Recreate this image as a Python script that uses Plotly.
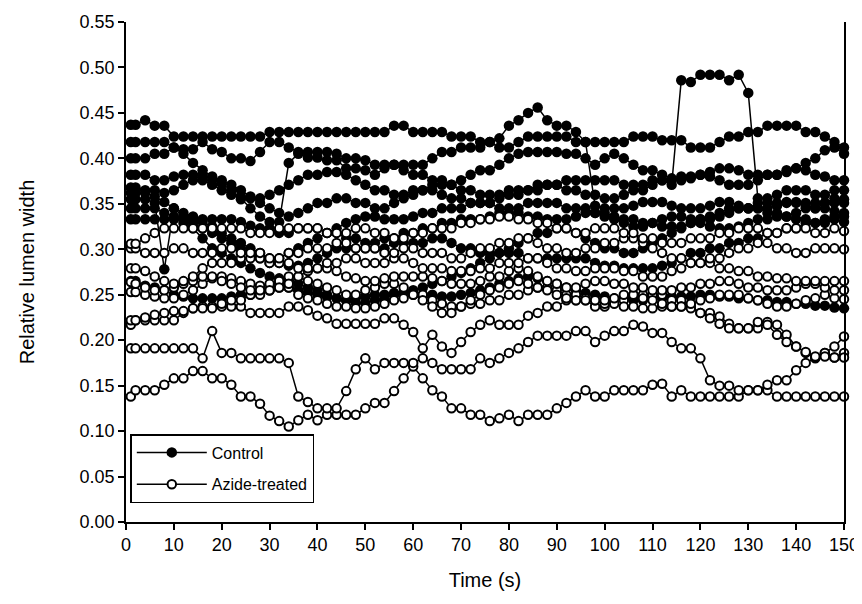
import plotly.graph_objects as go

# Time points (s)
time_s = [1] + list(range(2, 151, 2))

# ---- Control series (relative lumen width) ----
control_1 = [.437,.437,.442,.436,.436,.424,.424,.424,.424,.424,
             .424,.424,.424,.424,.424,.429,.429,.429,.429,.429,
             .429,.429,.429,.429,.429,.429,.429,.429,.436,.436,
             .429,.429,.429,.429,.424,.424,.424,.418,.418,.412,
             .412,.418,.424,.424,.424,.424,.424,.418,.418,.418,
             .418,.418,.418,.424,.424,.424,.420,.420,.420,.412,
             .412,.412,.418,.424,.424,.429,.429,.436,.436,.436,
             .436,.429,.429,.424,.418,.412]
control_2 = [.418,.418,.418,.418,.418,.412,.410,.410,.418,.410,
             .407,.400,.400,.397,.407,.418,.418,.412,.407,.401,
             .401,.398,.398,.389,.389,.387,.382,.389,.393,.393,
             .393,.393,.400,.407,.407,.412,.412,.412,.418,.422,
             .436,.442,.450,.456,.442,.436,.436,.429,.418,.348,
             .345,.345,.345,.348,.352,.352,.352,.348,.345,.345,
             .345,.348,.352,.352,.348,.345,.345,.345,.348,.352,
             .352,.348,.345,.345,.342,.340]
control_3 = [.400,.400,.400,.405,.405,.412,.405,.395,.387,.380,
             .372,.365,.355,.345,.336,.330,.330,.395,.405,.407,
             .407,.407,.405,.400,.400,.398,.393,.393,.393,.387,
             .382,.382,.376,.376,.371,.376,.382,.387,.387,.393,
             .400,.405,.407,.407,.407,.407,.405,.405,.400,.393,
             .400,.405,.400,.393,.387,.387,.382,.378,.376,.378,
             .382,.385,.389,.389,.387,.382,.382,.382,.382,.385,
             .389,.395,.400,.409,.412,.405]
control_4 = [.382,.382,.382,.376,.376,.380,.382,.382,.376,.371,
             .365,.360,.358,.356,.356,.360,.365,.371,.376,.382,
             .382,.385,.385,.382,.376,.371,.365,.365,.360,.360,
             .365,.365,.371,.371,.371,.365,.365,.360,.360,.360,
             .365,.365,.365,.371,.371,.371,.376,.376,.376,.376,
             .376,.376,.371,.371,.371,.376,.376,.371,.486,.484,
             .492,.492,.492,.486,.492,.472,.356,.356,.360,.365,
             .365,.365,.360,.360,.365,.365]
control_5 = [.368,.368,.365,.365,.362,.365,.371,.376,.382,.376,
             .376,.371,.365,.358,.351,.345,.340,.336,.340,.345,
             .351,.351,.356,.356,.351,.351,.345,.345,.351,.356,
             .360,.365,.365,.360,.356,.356,.351,.351,.351,.356,
             .360,.360,.365,.365,.371,.371,.365,.365,.360,.360,
             .356,.356,.360,.365,.365,.371,.376,.376,.380,.380,
             .382,.380,.376,.371,.371,.371,.376,.382,.382,.387,
             .389,.387,.382,.380,.376,.376]
control_6 = [.355,.355,.355,.351,.278,.345,.340,.336,.330,.325,
             .318,.312,.307,.301,.296,.290,.290,.296,.301,.307,
             .312,.318,.323,.329,.333,.336,.336,.333,.333,.333,
             .336,.340,.340,.345,.345,.345,.351,.351,.351,.345,
             .345,.345,.351,.351,.351,.351,.345,.345,.345,.340,
             .340,.336,.333,.333,.329,.329,.325,.325,.325,.329,
             .333,.333,.336,.340,.345,.345,.345,.340,.340,.336,
             .340,.345,.345,.351,.356,.355]
control_7 = [.333,.333,.333,.333,.333,.333,.333,.333,.333,.333,
             .333,.333,.330,.326,.323,.323,.318,.318,.323,.323,
             .323,.318,.318,.312,.312,.307,.307,.312,.312,.318,
             .318,.323,.323,.329,.329,.333,.333,.333,.336,.340,
             .340,.340,.336,.336,.333,.333,.333,.336,.340,.340,
             .336,.333,.329,.325,.325,.329,.333,.336,.336,.333,
             .329,.325,.323,.323,.325,.329,.333,.333,.336,.336,
             .333,.333,.329,.329,.333,.330]
control_8 = [.265,.265,.260,.258,.255,.250,.248,.246,.246,.246,
             .246,.248,.250,.250,.252,.255,.258,.258,.255,.252,
             .250,.248,.246,.244,.246,.248,.250,.250,.252,.252,
             .252,.250,.250,.248,.248,.250,.252,.255,.258,.262,
             .265,.268,.270,.268,.265,.262,.258,.255,.252,.250,
             .248,.246,.246,.244,.244,.246,.246,.248,.248,.248,
             .250,.250,.248,.248,.246,.246,.244,.244,.242,.242,
             .240,.240,.238,.238,.236,.235]
control_9 = [.362,.362,.362,.358,.352,.345,.336,.329,.323,.318,
             .312,.307,.301,.296,.290,.285,.285,.282,.282,.285,
             .290,.296,.301,.301,.301,.301,.301,.301,.307,.307,
             .307,.307,.312,.312,.307,.301,.301,.296,.296,.296,
             .296,.296,.290,.290,.290,.290,.290,.290,.290,.285,
             .282,.282,.279,.279,.279,.279,.282,.285,.290,.296,
             .296,.301,.301,.307,.307,.312,.312,.318,.318,.323,
             .323,.329,.329,.333,.336,.336]
control_10 = [.345,.345,.345,.345,.340,.336,.329,.323,.312,.301,
              .296,.290,.285,.279,.274,.270,.268,.265,.262,.258,
              .255,.250,.246,.244,.241,.241,.244,.246,.250,.252,
              .255,.258,.262,.265,.270,.274,.279,.285,.290,.296,
              .301,.307,.312,.318,.318,.323,.323,.318,.312,.307,
              .301,.301,.296,.296,.301,.307,.312,.318,.323,.329,
              .333,.336,.340,.345,.345,.345,.351,.351,.351,.351,
              .351,.351,.351,.351,.351,.351]

# ---- Azide-treated series ----
azide_1 = [.138,.145,.145,.145,.151,.158,.158,.166,.166,.158,
           .158,.151,.138,.138,.130,.117,.111,.105,.112,.118,
           .112,.118,.118,.118,.118,.125,.131,.131,.144,.158,
           .171,.158,.145,.138,.125,.125,.118,.118,.111,.114,
           .118,.111,.118,.118,.118,.125,.131,.138,.145,.138,
           .138,.145,.145,.145,.145,.151,.152,.138,.145,.138,
           .138,.138,.138,.138,.138,.145,.145,.145,.138,.138,
           .138,.138,.138,.138,.138,.138]
azide_2 = [.191,.191,.191,.191,.191,.191,.191,.191,.180,.210,
           .186,.186,.180,.180,.180,.180,.180,.175,.138,.132,
           .125,.125,.125,.144,.168,.180,.168,.175,.175,.175,
           .175,.180,.175,.168,.168,.168,.168,.180,.175,.180,
           .186,.191,.198,.205,.205,.205,.205,.210,.210,.198,
           .205,.210,.210,.217,.215,.208,.208,.198,.191,.191,
           .180,.156,.150,.150,.145,.145,.145,.151,.156,.156,
           .167,.175,.180,.186,.193,.204]
azide_3 = [.217,.222,.222,.222,.222,.222,.230,.235,.237,.237,
           .237,.237,.237,.230,.230,.230,.230,.237,.237,.233,
           .227,.224,.218,.218,.218,.218,.218,.224,.224,.217,
           .209,.191,.206,.193,.186,.198,.209,.217,.222,.217,
           .217,.217,.227,.230,.237,.237,.244,.244,.244,.237,
           .237,.244,.244,.250,.250,.250,.250,.244,.244,.237,
           .230,.230,.226,.218,.213,.213,.213,.220,.217,.206,
           .193,.186,.181,.186,.181,.186]
azide_4 = [.222,.222,.225,.228,.230,.232,.232,.235,.235,.235,
           .240,.244,.244,.250,.250,.255,.262,.258,.250,.246,
           .244,.240,.237,.237,.235,.235,.237,.240,.244,.246,
           .250,.250,.244,.240,.237,.237,.240,.240,.244,.244,
           .250,.250,.255,.258,.258,.255,.250,.250,.246,.244,
           .240,.240,.237,.237,.235,.235,.237,.237,.237,.235,
           .230,.224,.218,.213,.213,.213,.220,.217,.206,.198,
           .193,.187,.182,.182,.181,.181]
azide_5 = [.253,.253,.250,.248,.246,.246,.250,.255,.262,.268,
           .270,.268,.265,.262,.260,.262,.265,.270,.270,.265,
           .262,.258,.255,.250,.250,.255,.258,.262,.262,.258,
           .250,.244,.237,.230,.230,.237,.244,.250,.255,.258,
           .262,.265,.262,.258,.255,.250,.246,.244,.244,.244,
           .244,.246,.250,.250,.246,.244,.240,.237,.237,.240,
           .244,.246,.250,.250,.250,.246,.244,.240,.237,.237,
           .240,.244,.246,.250,.246,.245]
azide_6 = [.264,.262,.258,.255,.255,.258,.262,.265,.270,.270,
           .265,.262,.258,.255,.255,.255,.258,.262,.270,.276,
           .279,.279,.276,.270,.268,.265,.265,.268,.270,.270,
           .270,.270,.268,.265,.262,.262,.262,.265,.270,.270,
           .276,.279,.276,.270,.265,.262,.258,.258,.262,.265,
           .265,.262,.262,.258,.258,.255,.255,.255,.258,.258,
           .262,.262,.265,.265,.262,.258,.258,.255,.255,.255,
           .258,.262,.262,.258,.255,.255]
azide_7 = [.279,.279,.276,.270,.265,.262,.265,.270,.279,.285,
           .285,.285,.290,.290,.290,.285,.285,.285,.279,.279,
           .279,.285,.285,.290,.290,.285,.285,.285,.290,.290,
           .285,.279,.279,.279,.276,.276,.276,.279,.279,.285,
           .285,.285,.290,.290,.285,.279,.279,.276,.276,.279,
           .279,.279,.276,.276,.270,.270,.270,.276,.279,.285,
           .285,.285,.279,.279,.276,.276,.270,.270,.268,.268,
           .265,.265,.265,.265,.265,.265]
azide_8 = [.301,.301,.296,.296,.296,.301,.301,.296,.296,.296,
           .301,.301,.296,.296,.296,.290,.290,.296,.296,.301,
           .301,.301,.307,.307,.301,.301,.301,.296,.296,.301,
           .301,.296,.296,.296,.290,.290,.296,.301,.301,.307,
           .307,.312,.312,.307,.301,.301,.296,.296,.301,.301,
           .307,.307,.312,.312,.307,.301,.296,.290,.290,.285,
           .285,.290,.290,.296,.301,.301,.307,.307,.301,.301,
           .296,.296,.301,.301,.301,.300]
azide_9 = [.306,.306,.312,.318,.323,.323,.323,.323,.323,.323,
           .323,.323,.323,.318,.318,.318,.323,.323,.323,.323,
           .323,.318,.318,.318,.323,.323,.318,.318,.312,.312,
           .318,.318,.323,.323,.323,.329,.329,.333,.333,.336,
           .336,.333,.333,.329,.329,.323,.323,.318,.318,.323,
           .323,.323,.318,.318,.312,.312,.307,.307,.307,.312,
           .312,.312,.318,.318,.323,.323,.323,.318,.318,.323,
           .323,.323,.318,.318,.323,.320]

control_series = [control_1, control_2, control_3, control_4, control_5,
                  control_6, control_7, control_8, control_9, control_10]
azide_series = [azide_1, azide_2, azide_3, azide_4, azide_5,
                azide_6, azide_7, azide_8, azide_9]

x_ticks = list(range(0, 151, 10))
y_ticks = [round(0.05 * i, 2) for i in range(12)]
y_tick_labels = ["%.2f" % v for v in y_ticks]

FONT = "Liberation Sans, Arial, sans-serif"

fig = go.Figure()
for i, ys in enumerate(control_series):
    assert len(ys) == len(time_s)
    fig.add_trace(go.Scatter(
        x=time_s, y=ys, mode="lines+markers", name="Control",
        legendgroup="control", showlegend=(i == 0), cliponaxis=False,
        line=dict(color="black", width=1.5),
        marker=dict(symbol="circle", size=10.5, color="black", line=dict(width=0)),
    ))
for i, ys in enumerate(azide_series):
    assert len(ys) == len(time_s)
    fig.add_trace(go.Scatter(
        x=time_s, y=ys, mode="lines+markers", name="Azide-treated",
        legendgroup="azide", showlegend=(i == 0), cliponaxis=False,
        line=dict(color="black", width=1.5),
        marker=dict(symbol="circle", size=8.5, color="white",
                    line=dict(color="black", width=2)),
    ))

# The page body has an 8px default margin, so the figure is 8px smaller.
fig.update_layout(
    width=854, height=596,
    margin=dict(l=118, r=18, t=14, b=82),
    paper_bgcolor="white", plot_bgcolor="white",
    font=dict(family=FONT, size=18, color="black"),
    showlegend=True,
    legend=dict(
        x=0.006, y=0.176, xanchor="left", yanchor="top",
        bordercolor="black", borderwidth=1.5, bgcolor="white",
        font=dict(family=FONT, size=16, color="black"),
        itemwidth=70, tracegroupgap=8,
    ),
    xaxis=dict(
        range=[0, 150], tickmode="array", tickvals=x_ticks,
        ticks="outside", ticklen=6, tickwidth=1.5, tickcolor="black",
        showline=True, linecolor="black", linewidth=1.5,
        showgrid=False, zeroline=False, automargin=False,
        title=dict(text="Time (s)", font=dict(family=FONT, size=20), standoff=19),
        tickfont=dict(family=FONT, size=18),
    ),
    yaxis=dict(
        range=[0, 0.55], tickmode="array", tickvals=y_ticks, ticktext=y_tick_labels,
        ticks="outside", ticklen=6, tickwidth=1.5, tickcolor="black",
        showline=True, linecolor="black", linewidth=1.5, mirror=True,
        showgrid=False, zeroline=False, automargin=False,
        title=dict(text="Relative lumen width", font=dict(family=FONT, size=20), standoff=40),
        tickfont=dict(family=FONT, size=18),
    ),
)

fig.write_html("out.html")
